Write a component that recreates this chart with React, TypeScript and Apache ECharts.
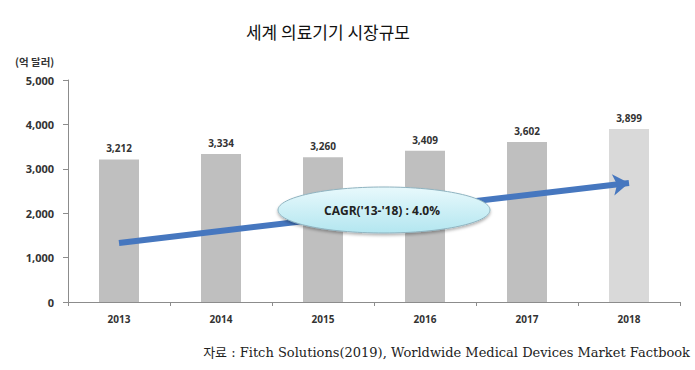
import React, { useEffect, useRef } from "react";
import * as echarts from "echarts";

const years = ["2013", "2014", "2015", "2016", "2017", "2018"];
const marketSize = [3212, 3334, 3260, 3409, 3602, 3899];
const barColors = ["#bfbfbf", "#bfbfbf", "#bfbfbf", "#bfbfbf", "#bfbfbf", "#d9d9d9"];
const arrowStart = 1330;
const arrowEnd = 2680;
const titleText = "세계 의료기기 시장규모";
const unitText = "(억 달러)";
const cagrText = "CAGR('13-'18) : 4.0%";
const sourceText = "자료 : Fitch Solutions(2019), Worldwide Medical Devices Market Factbook";

const numFont = "'Open Sans', 'Noto Sans CJK KR', sans-serif";

export default function App() {
  const ref = useRef<HTMLDivElement>(null);
  useEffect(() => {
    if (!ref.current) return;
    const chart = echarts.init(ref.current, null, { renderer: "svg" });
    chart.setOption({
      animation: false,
      backgroundColor: "#ffffff",
      grid: { left: 68, right: 15, top: 80, bottom: 68, containLabel: false },
      xAxis: {
        type: "category",
        data: years,
        axisLine: { lineStyle: { color: "#8c8c8c", width: 1 } },
        axisTick: { show: true, alignWithLabel: false, length: 4, lineStyle: { color: "#8c8c8c" } },
        axisLabel: { color: "#333", fontSize: 10, fontWeight: "bold", fontFamily: numFont, margin: 12 },
      },
      yAxis: {
        type: "value",
        min: 0,
        max: 5000,
        interval: 1000,
        splitLine: { show: false },
        axisLine: { show: true, lineStyle: { color: "#8c8c8c", width: 1 } },
        axisTick: { show: true, length: 5, lineStyle: { color: "#8c8c8c" } },
        axisLabel: {
          color: "#333",
          fontSize: 11,
          fontWeight: "bold",
          fontFamily: numFont,
          margin: 14,
          formatter: (v: number) => v.toLocaleString("en-US"),
        },
      },
      series: [
        {
          type: "bar",
          barWidth: 40,
          data: marketSize.map((v, i) => ({ value: v, itemStyle: { color: barColors[i] } })),
          label: {
            show: true,
            position: "top",
            distance: 6,
            color: "#333",
            fontSize: 10,
            fontWeight: "bold",
            fontFamily: numFont,
            formatter: (p: any) => Number(p.value).toLocaleString("en-US"),
          },
          markLine: {
            silent: true,
            symbol: ["none", "arrow"],
            symbolSize: [16, 16],
            label: { show: false },
            lineStyle: { color: "#4677bf", width: 6, type: "solid" },
            data: [[{ coord: [0, arrowStart] }, { coord: [5, arrowEnd] }]],
          },
        },
      ],
      graphic: [
        {
          type: "text",
          x: 328,
          y: 31,
          style: {
            text: titleText,
            fontSize: 17,
            fill: "#111",
            align: "center",
            verticalAlign: "middle",
            fontFamily: "'Noto Sans CJK KR', sans-serif",
          },
        },
        {
          type: "text",
          left: 15,
          top: 56,
          style: {
            text: unitText,
            fontSize: 10.5,
            fontWeight: "bold",
            fill: "#333",
            fontFamily: "'Noto Sans CJK KR', sans-serif",
          },
        },
        {
          type: "ellipse",
          z: 100,
          shape: { cx: 384, cy: 210, rx: 106, ry: 23 },
          style: {
            fill: new echarts.graphic.LinearGradient(0, 0, 0, 1, [
              { offset: 0, color: "#e8f9fc" },
              { offset: 1, color: "#b3e6f0" },
            ]),
            stroke: "#8fb3c0",
            lineWidth: 1,
            shadowBlur: 3,
            shadowOffsetY: 2,
            shadowColor: "rgba(0,0,0,0.3)",
          },
        },
        {
          type: "text",
          z: 101,
          x: 382,
          y: 210,
          style: {
            text: cagrText,
            fontSize: 12,
            fontWeight: "bold",
            fill: "#222",
            align: "center",
            verticalAlign: "middle",
            fontFamily: numFont,
          },
        },
        {
          type: "text",
          x: 690,
          y: 352,
          style: {
            text: sourceText,
            fontSize: 13,
            fill: "#222",
            align: "right",
            verticalAlign: "middle",
            fontFamily: "'DejaVu Serif', 'Noto Sans CJK KR', serif",
          },
        },
      ],
    });
    return () => chart.dispose();
  }, []);
  return (
    <div
      ref={ref}
      style={{ position: "fixed", left: 0, top: 0, width: 695, height: 370 }}
    />
  );
}
